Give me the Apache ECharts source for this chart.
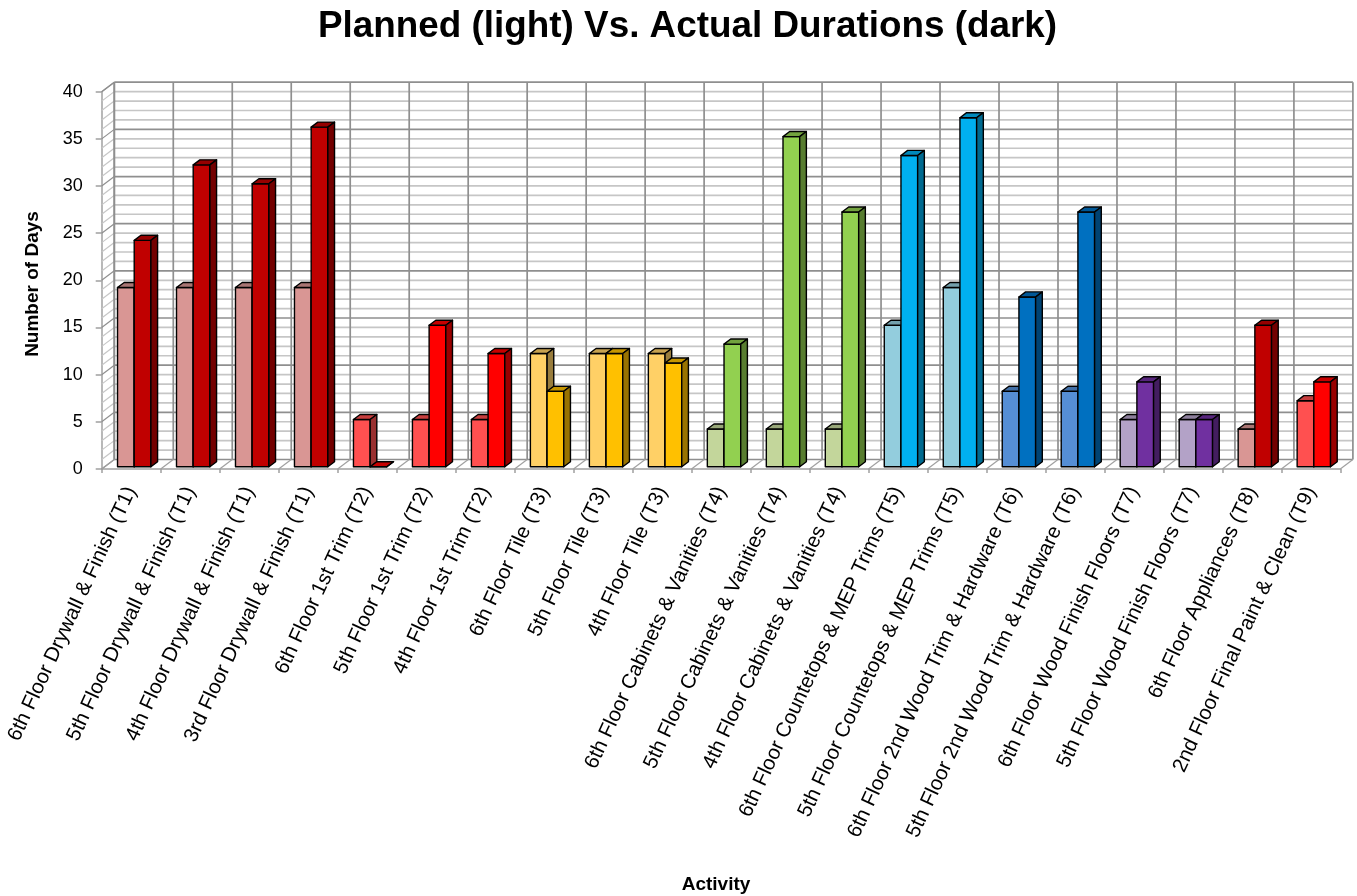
<!DOCTYPE html>
<html>
<head>
<meta charset="utf-8">
<script src="https://cdn.jsdelivr.net/npm/echarts@6/dist/echarts.min.js"></script>
<style>
  html, body { margin: 0; padding: 0; background: #ffffff; }
  #chart { width: 1357px; height: 896px; }
</style>
</head>
<body>
<div id="chart"></div>
<script>
// Activities, planned and actual durations in days
const categories = [
  '6th Floor Drywall & Finish (T1)',
  '5th Floor Drywall & Finish (T1)',
  '4th Floor Drywall & Finish (T1)',
  '3rd Floor Drywall & Finish (T1)',
  '6th Floor 1st Trim (T2)',
  '5th Floor 1st Trim (T2)',
  '4th Floor 1st Trim (T2)',
  '6th Floor Tile (T3)',
  '5th Floor Tile (T3)',
  '4th Floor Tile (T3)',
  '6th Floor Cabinets & Vanities (T4)',
  '5th Floor Cabinets & Vanities (T4)',
  '4th Floor Cabinets & Vanities (T4)',
  '6th Floor Countetops & MEP Trims (T5)',
  '5th Floor Countetops & MEP Trims (T5)',
  '6th Floor 2nd Wood Trim & Hardware (T6)',
  '5th Floor 2nd Wood Trim & Hardware (T6)',
  '6th Floor Wood Finish Floors (T7)',
  '5th Floor Wood Finish Floors (T7)',
  '6th Floor Appliances (T8)',
  '2nd Floor Final Paint & Clean (T9)'
];
const planned = [19, 19, 19, 19, 5, 5, 5, 12, 12, 12, 4, 4, 4, 15, 19, 8, 8, 5, 5, 4, 7];
const actual  = [24, 32, 30, 36, 0, 15, 12, 8, 12, 11, 13, 35, 27, 33, 37, 18, 27, 9, 5, 15, 9];
const yTicks = [0, 5, 10, 15, 20, 25, 30, 35, 40];

// Colour pairs (light = planned, dark = actual) for each task group
const groupLight = { T1: '#d99694', T2: '#ff5050', T3: '#ffd066', T4: '#c3d69b', T5: '#93cddd', T6: '#558ed5', T7: '#b3a2c7', T8: '#d99694', T9: '#ff5050' };
const groupDark  = { T1: '#c00000', T2: '#ff0000', T3: '#ffc000', T4: '#92d050', T5: '#00b0f0', T6: '#0070c0', T7: '#7030a0', T8: '#c00000', T9: '#ff0000' };

function groupOf(label) {
  const m = label.match(/\((T\d)\)/);
  return m ? m[1] : 'T1';
}
function shade(hex, f) {
  const n = parseInt(hex.slice(1), 16);
  const r = Math.round(((n >> 16) & 255) * f);
  const g = Math.round(((n >> 8) & 255) * f);
  const b = Math.round((n & 255) * f);
  return 'rgb(' + r + ',' + g + ',' + b + ')';
}

// 3D depth vector of the chart box (front plane -> back wall)
const DEPTH = [12.6, -9.5];
const BAR_FRONT = 0.24;   // bars start at this fraction of the depth
const BAR_DEPTH = 0.53;   // bar thickness as a fraction of the depth
const BAR_W = 0.283;      // width of one bar as a fraction of a category

const YMAX = 40;
const MINOR = '#c6c6c6';
const MAJOR = '#8f8f8f';

const chart = echarts.init(document.getElementById('chart'), null, { renderer: 'canvas' });

// condensed bold heading, stretched to its width
function measure(text, font) {
  const c = document.createElement('canvas').getContext('2d');
  c.font = font;
  return c.measureText(text).width;
}
const titleText = 'Planned (light) Vs. Actual Durations (dark)';
const titleFont = 'bold 36px "Liberation Sans", Arial, sans-serif';
const titleScale = 739 / measure(titleText, titleFont);

function renderWalls(params, api) {
  const cs = params.coordSys;
  const n = categories.length;
  const catW = cs.width / n;
  const x0 = cs.x, x1 = cs.x + cs.width;
  const [dx, dy] = DEPTH;
  const kids = [];
  const line = (a, b, c, d, color, w) => kids.push({
    type: 'line', shape: { x1: a, y1: b, x2: c, y2: d },
    style: { stroke: color, lineWidth: w }, silent: true
  });
  // back wall background
  const yTop = api.coord([0, YMAX])[1];
  const yBot = api.coord([0, 0])[1];
  kids.push({ type: 'rect', shape: { x: x0 + dx, y: yTop + dy, width: cs.width, height: yBot - yTop },
    style: { fill: '#ffffff' }, silent: true });
  // minor then major horizontal lines on back wall and left wall
  for (let pass = 0; pass < 2; pass++) {
    for (let v = 0; v <= YMAX; v++) {
      const major = v % 5 === 0;
      if ((pass === 0) === major) continue;
      const y = api.coord([0, v])[1];
      const col = major ? MAJOR : MINOR;
      line(x0 + dx, y + dy, x1 + dx, y + dy, col, 1.7);
      line(x0, y, x0 + dx, y + dy, col, 1.2);
    }
  }
  // vertical lines on back wall, and floor diagonals
  for (let i = 0; i <= n; i++) {
    const x = x0 + i * catW;
    line(x + dx, yTop + dy, x + dx, yBot + dy, MAJOR, 1.7);
    line(x, yBot, x + dx, yBot + dy, '#a0a0a0', 1.2);
  }
  // left wall back edge and top edge
  line(x0 + dx, yTop + dy, x0 + dx, yBot + dy, MAJOR, 1.7);
  line(x0, yTop, x0 + dx, yTop + dy, MAJOR, 1.2);
  return { type: 'group', children: kids };
}

function bar3d(xl, w, yTop, yBase, color, kids) {
  const dx = DEPTH[0] * BAR_DEPTH, dy = DEPTH[1] * BAR_DEPTH;
  const stroke = { stroke: '#000000', lineWidth: 1.4, lineJoin: 'round' };
  kids.push({ type: 'polygon', shape: { points: [[xl, yBase], [xl + w, yBase], [xl + w, yTop], [xl, yTop]] },
    style: Object.assign({ fill: color }, stroke) });
  kids.push({ type: 'polygon', shape: { points: [[xl, yTop], [xl + w, yTop], [xl + w + dx, yTop + dy], [xl + dx, yTop + dy]] },
    style: Object.assign({ fill: shade(color, 0.78) }, stroke) });
  kids.push({ type: 'polygon', shape: { points: [[xl + w, yTop], [xl + w + dx, yTop + dy], [xl + w + dx, yBase + dy], [xl + w, yBase]] },
    style: Object.assign({ fill: shade(color, 0.6) }, stroke) });
}

function renderBars(params, api) {
  const idx = api.value(0);
  const p = api.value(1);
  const a = api.value(2);
  const catW = api.size([1, 0])[0];
  const base = api.coord([idx, 0]);
  const ox = DEPTH[0] * BAR_FRONT, oy = DEPTH[1] * BAR_FRONT;
  const w = catW * BAR_W;
  const g = groupOf(categories[idx]);
  const kids = [];
  const yBase = base[1] + oy;
  bar3d(base[0] - w + ox, w, api.coord([idx, p])[1] + oy, yBase, groupLight[g], kids);
  bar3d(base[0] + ox, w, api.coord([idx, a])[1] + oy, yBase, groupDark[g], kids);
  return { type: 'group', children: kids };
}

const option = {
  backgroundColor: '#ffffff',
  animation: false,
  textStyle: { fontFamily: '"Liberation Sans", Arial, sans-serif' },
  grid: { left: 101.7, right: 16.7, top: 91.7, bottom: 427, containLabel: false, outerBoundsMode: 'none' },
  xAxis: {
    type: 'category',
    data: categories,
    boundaryGap: true,
    axisLine: { show: true, lineStyle: { color: '#a0a0a0', width: 1.5 } },
    axisTick: { show: true, length: 4, alignWithLabel: false, lineStyle: { color: '#a0a0a0', width: 1.5 } },
    axisLabel: {
      interval: 0, rotate: 65, margin: 18.8,
      fontSize: 20.6, color: '#000000',
      padding: [29.8, 0, 0, 0],
      hideOverlap: false
    },
    splitLine: { show: false }
  },
  yAxis: {
    type: 'value',
    min: 0, max: YMAX, interval: 5,
    axisLine: { show: true, lineStyle: { color: '#a0a0a0', width: 1.5 } },
    axisTick: { show: true, length: 6, lineStyle: { color: '#a0a0a0', width: 1.5 } },
    axisLabel: { fontSize: 18, color: '#000000', margin: 19,
      formatter: v => (yTicks.indexOf(v) >= 0 ? String(v) : '') },
    splitLine: { show: false }
  },
  graphic: [
    { type: 'text', x: 687.5, y: 27, scaleX: titleScale, scaleY: 1,
      style: { text: titleText, font: titleFont, fill: '#000000', align: 'center', verticalAlign: 'middle' } },
    { type: 'text', x: 33, y: 284, rotation: Math.PI / 2,
      style: { text: 'Number of Days', font: 'bold 19px "Liberation Sans", Arial, sans-serif', fill: '#000000', align: 'center', verticalAlign: 'middle' } },
    { type: 'text', x: 716, y: 885,
      style: { text: 'Activity', font: 'bold 19px "Liberation Sans", Arial, sans-serif', fill: '#000000', align: 'center', verticalAlign: 'middle' } }
  ],
  series: [
    {
      type: 'custom', name: 'walls', z: 1, silent: true,
      renderItem: renderWalls,
      data: [[0, 0]]
    },
    {
      type: 'custom', name: 'Planned vs Actual', z: 3,
      renderItem: renderBars,
      encode: { x: 0, y: [1, 2] },
      data: categories.map((c, i) => [i, planned[i], actual[i]])
    }
  ]
};
chart.setOption(option);
</script>
</body>
</html>
